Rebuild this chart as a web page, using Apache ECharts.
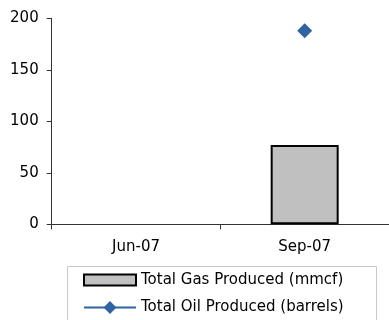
<!DOCTYPE html>
<html>
<head>
<meta charset="utf-8">
<script src="https://cdn.jsdelivr.net/npm/echarts@6/dist/echarts.min.js"></script>
<style>
html,body{margin:0;padding:0;background:#fff;}
#chart{width:389px;height:320px;}
</style>
</head>
<body>
<div id="chart"></div>
<script>
const categories = ['Jun-07', 'Sep-07'];
const gasProduced = [null, 77];
const oilProduced = [null, 188];
const yTicks = { min: 0, max: 200, interval: 50 };
const seriesNames = ['Total Gas Produced (mmcf)', 'Total Oil Produced (barrels)'];

const FONT = 'DejaVu Sans';
const legendText = { fontFamily: FONT, fontSize: 15, color: '#000' };
const chart = echarts.init(document.getElementById('chart'), null, { renderer: 'canvas' });
chart.setOption({
  animation: false,
  backgroundColor: '#fff',
  textStyle: { fontFamily: FONT },
  grid: { left: 51.7, top: 18.3, width: 341, height: 206, containLabel: false },
  graphic: [{
    type: 'rect',
    silent: true,
    z: -1,
    shape: { x: 67.5, y: 266.5, width: 309, height: 70 },
    style: { fill: 'none', stroke: '#c8c8c8', lineWidth: 1 }
  }],
  legend: [
    {
      orient: 'vertical',
      left: 67,
      top: 266,
      padding: [6.5, 0, 0, 16],
      itemWidth: 52,
      itemHeight: 11,
      textStyle: legendText,
      data: [{ name: seriesNames[0], icon: 'rect' }]
    },
    {
      orient: 'vertical',
      left: 67,
      top: 300,
      padding: [0, 0, 0, 16],
      itemWidth: 52,
      itemHeight: 16,
      textStyle: legendText,
      data: [seriesNames[1]]
    }
  ],
  xAxis: {
    type: 'category',
    data: categories,
    boundaryGap: true,
    axisLine: { lineStyle: { color: '#333', width: 1 } },
    axisTick: { show: true, length: 5, alignWithLabel: false, lineStyle: { color: '#333' } },
    axisLabel: { color: '#000', fontFamily: FONT, fontSize: 15, margin: 15 },
    splitLine: { show: false }
  },
  yAxis: {
    type: 'value',
    min: yTicks.min,
    max: yTicks.max,
    interval: yTicks.interval,
    axisLine: { show: true, lineStyle: { color: '#333', width: 1 } },
    axisTick: { show: true, length: 5, lineStyle: { color: '#333' } },
    axisLabel: { color: '#000', fontFamily: FONT, fontSize: 15, margin: 13 },
    splitLine: { show: false }
  },
  series: [
    {
      name: seriesNames[0],
      type: 'bar',
      data: gasProduced,
      barWidth: 68,
      itemStyle: { color: '#c0c0c0', borderColor: '#000', borderWidth: 2 }
    },
    {
      name: seriesNames[1],
      type: 'line',
      data: oilProduced,
      symbol: 'diamond',
      symbolSize: 15,
      showSymbol: true,
      connectNulls: false,
      itemStyle: { color: '#2e64a2' },
      lineStyle: { color: '#2e64a2', width: 2 }
    }
  ]
});
</script>
</body>
</html>
